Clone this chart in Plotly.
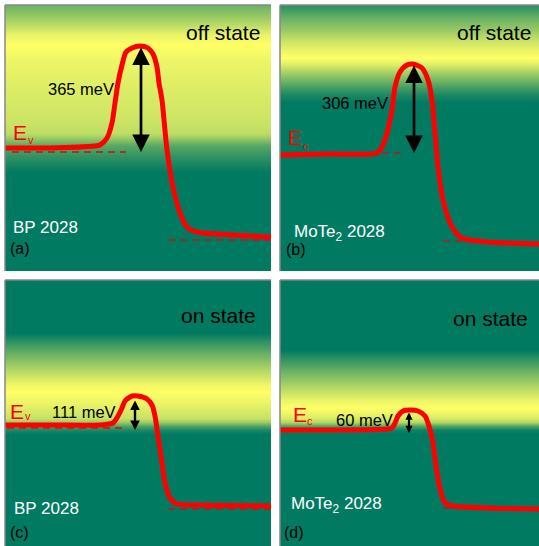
import plotly.graph_objects as go

FONT = "Liberation Sans, Arial, Helvetica, sans-serif"
TEAL = "rgb(1,122,98)"
YELLOW = "rgb(255,255,102)"
RED = "rgb(255,0,0)"
DARKRED = "rgb(185,25,25)"

# ---------------- data (panel units: x = position, E = energy, arbitrary units) ----------
# background "yellowness" profiles (0 = teal, 1 = yellow) versus energy
grad_a_E = [0, 99, 106, 116, 126, 133, 138, 151, 181, 211, 226, 236, 251, 266]
grad_a_v = [0, 0, 0.08, 0.2, 0.35, 0.6, 0.75, 0.8, 0.86, 0.93, 1.0, 0.92, 0.65, 0.42]
grad_b_E = [0, 169, 176, 183, 191, 199, 206, 213, 221, 231, 241, 251, 259, 266]
grad_b_v = [0, 0, 0.1, 0.25, 0.45, 0.65, 0.85, 1.0, 0.92, 0.78, 0.6, 0.45, 0.3, 0.15]
grad_c_E = [0, 112, 116, 120, 124, 128, 141, 154, 161, 176, 193, 206, 213, 266]
grad_c_v = [0, 0, 0.1, 0.3, 0.6, 0.78, 0.9, 1.0, 0.95, 0.7, 0.4, 0.15, 0, 0]
grad_d_E = [0, 112, 116, 120, 124, 128, 138, 146, 159, 176, 189, 196, 266]
grad_d_v = [0, 0, 0.05, 0.3, 0.7, 0.85, 1.0, 0.92, 0.7, 0.4, 0.15, 0, 0]

# band-edge profiles
a_x = [0, 45, 90, 95, 102, 107, 110, 113, 117, 121, 127, 135, 143, 148, 152, 154, 157, 162, 168, 175, 182, 192, 228, 266]
a_E = [123, 123, 125, 126, 133, 148, 168, 188, 206, 219, 223, 225, 223, 217, 204, 188, 171, 121, 84, 58, 44, 39, 36, 34]
b_x = [0, 50, 97, 102, 107, 112, 115, 120, 127, 133, 142, 148, 152, 155, 158, 163, 172, 182, 207, 259]
b_E = [116, 117, 118, 124, 138, 161, 184, 199, 206, 207, 203, 191, 171, 138, 104, 71, 44, 33, 29, 27]
c_x = [0, 45, 95, 108, 113, 117, 120, 127, 133, 142, 147, 150, 153, 157, 160, 165, 172, 195, 266]
c_E = [121, 121, 121, 123, 130, 138, 145, 150, 150, 147, 141, 130, 110, 83, 63, 48, 42, 41, 40]
d_x = [0, 50, 108, 112, 115, 118, 123, 130, 138, 145, 149, 153, 156, 160, 165, 173, 207, 259]
d_E = [116, 116, 117, 118, 123, 130, 135, 136, 135, 130, 120, 103, 80, 57, 43, 40, 38, 37]

# reference (dashed) levels: [x_start, x_end, E]
a_ref = [[7, 121, 119], [163, 266, 31]]
b_ref = [[102, 122, 118], [163, 182, 30]]
c_ref = [[2, 121, 118], [163, 266, 37]]
d_ref = [[163, 173, 38]]

# barrier arrows: [x, E_low, E_high]
a_arrow = [136, 119, 225]
b_arrow = [134, 118, 207]
c_arrow = [130, 116, 147]
d_arrow = [129, 113, 135]

# labels
barrier_labels = ["365 meV", "306 meV", "111 meV", "60 meV"]
state_labels = ["off state", "off state", "on state", "on state"]
band_labels = ["v", "c", "v", "c"]
material_labels = ["BP 2028", "MoTe<sub>2</sub> 2028", "BP 2028", "MoTe<sub>2</sub> 2028"]
panel_labels = ["(a)", "(b)", "(c)", "(d)"]

# ---------------- layout of panels ----------------
FW, FH = 539, 546
x_dom = {"L": [5 / FW, 271 / FW], "R": [280 / FW, 1.0]}
y_dom = {"T": [1 - 271 / FH, 1 - 5 / FH], "B": [0, 1 - 280 / FH]}

panels = [
    dict(xa="x", ya="y", xd="L", yd="T", w=266, gE=grad_a_E, gv=grad_a_v, cx=a_x, cE=a_E, ref=a_ref, arr=a_arrow,
         lab_pos=dict(state=(257, 238), bar=(111, 182), E=(6, 138), sub=(21, 131), mat=(6, 43), pan=(3, 22)),
         head=1.3, aw=2.7),
    dict(xa="x2", ya="y2", xd="R", yd="T", w=259, gE=grad_b_E, gv=grad_b_v, cx=b_x, cE=b_E, ref=b_ref, arr=b_arrow,
         lab_pos=dict(state=(253, 238), bar=(110, 168), E=(6, 133), sub=(21, 125), mat=(12, 38), pan=(4, 21)),
         head=1.3, aw=2.7),
    dict(xa="x3", ya="y3", xd="L", yd="B", w=266, gE=grad_c_E, gv=grad_c_v, cx=c_x, cE=c_E, ref=c_ref, arr=c_arrow,
         lab_pos=dict(state=(253, 231), bar=(113, 134), E=(3, 135), sub=(18, 130), mat=(7, 38), pan=(3, 14)),
         head=0.8, aw=2.4),
    dict(xa="x4", ya="y4", xd="R", yd="B", w=259, gE=grad_d_E, gv=grad_d_v, cx=d_x, cE=d_E, ref=d_ref, arr=d_arrow,
         lab_pos=dict(state=(250, 228), bar=(115, 126), E=(11, 132), sub=(25, 125), mat=(9, 41), pan=(2, 14)),
         head=0.65, aw=2.2),
]

fig = go.Figure()
annotations = []
shapes = []
layout_axes = {}

for i, p in enumerate(panels):
    xa, ya = p["xa"], p["ya"]
    # background gradient
    fig.add_trace(go.Heatmap(
        x=[0, p["w"]], y=p["gE"], z=[[v, v] for v in p["gv"]],
        colorscale=[[0, TEAL], [1, YELLOW]], zmin=0, zmax=1, zsmooth="best",
        showscale=False, hoverinfo="skip", xaxis=xa, yaxis=ya))
    # dashed reference levels
    for seg in p["ref"]:
        fig.add_trace(go.Scatter(
            x=[seg[0], seg[1]], y=[seg[2], seg[2]], mode="lines",
            line=dict(color=DARKRED, width=1.3, dash="7px,5px"),
            hoverinfo="skip", xaxis=xa, yaxis=ya))
    # band edge
    fig.add_trace(go.Scatter(
        x=p["cx"], y=p["cE"], mode="lines",
        line=dict(color=RED, width=5, shape="spline", smoothing=0.7),
        hoverinfo="skip", xaxis=xa, yaxis=ya))

    key = "" if i == 0 else str(i + 1)
    layout_axes["xaxis" + key] = dict(domain=x_dom[p["xd"]], range=[0, p["w"]], anchor=ya,
                                      showgrid=False, zeroline=False, showticklabels=False,
                                      ticks="", showline=False, fixedrange=True)
    layout_axes["yaxis" + key] = dict(domain=y_dom[p["yd"]], range=[0, 266], anchor=xa,
                                      showgrid=False, zeroline=False, showticklabels=False,
                                      ticks="", showline=False, fixedrange=True)

    ax_x, E_lo, E_hi = p["arr"]
    annotations.append(dict(
        x=ax_x, y=E_lo, ax=ax_x, ay=E_hi, xref=xa, yref=ya, axref=xa, ayref=ya,
        text="", showarrow=True, arrowside="end+start", arrowhead=2, startarrowhead=2,
        arrowsize=p["head"], startarrowsize=p["head"], arrowwidth=p["aw"], arrowcolor="black",
        standoff=0, startstandoff=0))

    lp = p["lab_pos"]
    annotations += [
        dict(x=lp["state"][0], y=lp["state"][1], xref=xa, yref=ya, text=state_labels[i],
             showarrow=False, xanchor="right", yanchor="middle",
             font=dict(family=FONT, size=21, color="black")),
        dict(x=lp["bar"][0], y=lp["bar"][1], xref=xa, yref=ya, text=barrier_labels[i],
             showarrow=False, xanchor="right", yanchor="middle",
             font=dict(family=FONT, size=16.5, color="black")),
        dict(x=lp["E"][0], y=lp["E"][1], xref=xa, yref=ya, text="E",
             showarrow=False, xanchor="left", yanchor="middle",
             font=dict(family=FONT, size=21, color=RED)),
        dict(x=lp["sub"][0], y=lp["sub"][1], xref=xa, yref=ya, text=band_labels[i],
             showarrow=False, xanchor="left", yanchor="middle",
             font=dict(family=FONT, size=11, color=RED)),
        dict(x=lp["mat"][0], y=lp["mat"][1], xref=xa, yref=ya, text=material_labels[i],
             showarrow=False, xanchor="left", yanchor="middle",
             font=dict(family=FONT, size=17, color="white")),
        dict(x=lp["pan"][0], y=lp["pan"][1], xref=xa, yref=ya, text=panel_labels[i],
             showarrow=False, xanchor="left", yanchor="middle",
             font=dict(family=FONT, size=16, color="black")),
    ]

    # thin grey frame on top and left
    shapes += [
        dict(type="line", xref=xa + " domain", yref=ya + " domain", x0=0, x1=1, y0=1, y1=1,
             line=dict(color="rgb(135,135,135)", width=1.5)),
        dict(type="line", xref=xa + " domain", yref=ya + " domain", x0=0, x1=0, y0=0, y1=1,
             line=dict(color="rgb(135,135,135)", width=1.5)),
    ]

fig.update_layout(
    width=FW, height=FH, margin=dict(l=0, r=0, t=0, b=0),
    paper_bgcolor="white", plot_bgcolor="white", showlegend=False,
    annotations=annotations, shapes=shapes, **layout_axes)

fig.write_html("out.html")
